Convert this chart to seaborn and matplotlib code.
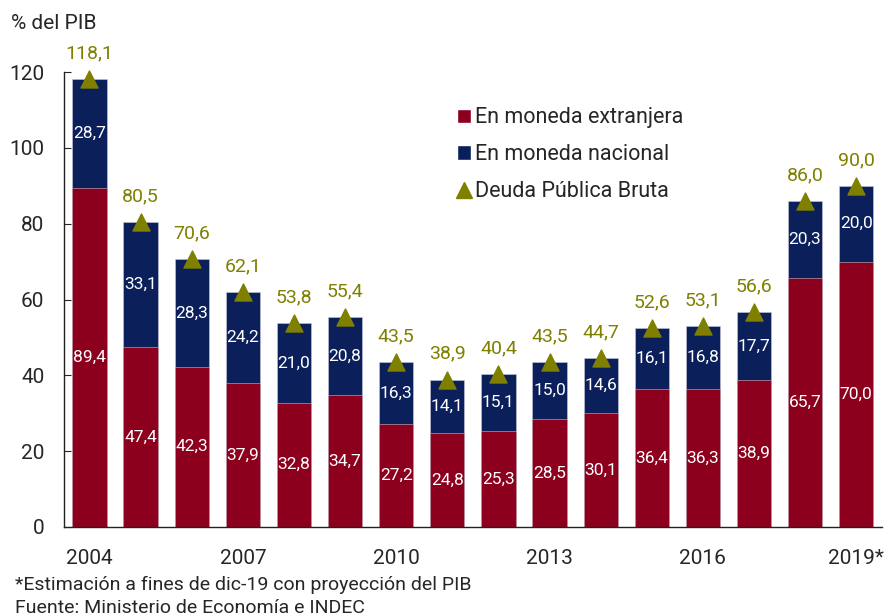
import numpy as np
import pandas as pd
import matplotlib
matplotlib.use("Agg")
import matplotlib.pyplot as plt
import seaborn as sns
from matplotlib.patches import Patch
from matplotlib.lines import Line2D

# data (% of GDP)
years = ["2004", "2005", "2006", "2007", "2008", "2009", "2010", "2011",
         "2012", "2013", "2014", "2015", "2016", "2017", "2018", "2019*"]
foreign = [89.4, 47.4, 42.3, 37.9, 32.8, 34.7, 27.2, 24.8,
           25.3, 28.5, 30.1, 36.4, 36.3, 38.9, 65.7, 70.0]
national = [28.7, 33.1, 28.3, 24.2, 21.0, 20.8, 16.3, 14.1,
            15.1, 15.0, 14.6, 16.1, 16.8, 17.7, 20.3, 20.0]
gross_debt = [118.1, 80.5, 70.6, 62.1, 53.8, 55.4, 43.5, 38.9,
              40.4, 43.5, 44.7, 52.6, 53.1, 56.6, 86.0, 90.0]
shown_years = ["2004", "2007", "2010", "2013", "2016", "2019*"]

RED = "#8C001E"
NAVY = "#0B1F5B"
OLIVE = "#7F8000"

sns.set_style("white")
plt.rcParams["font.family"] = ["Roboto", "DejaVu Sans"]


def fmt(v):
    return f"{v:.1f}".replace(".", ",")


df = pd.DataFrame({"year": years, "foreign": foreign, "national": national,
                   "total": gross_debt})
df["stack"] = df["foreign"] + df["national"]

fig = plt.figure(figsize=(8.88, 6.16), dpi=100)
ax = fig.add_axes([0.072, 0.1445, 0.921, 0.7385])

bar_w = 0.67
sns.barplot(data=df, x="year", y="stack", color=NAVY, width=bar_w,
            saturation=1, edgecolor="#c8c8d8", linewidth=0.4, ax=ax)
sns.barplot(data=df, x="year", y="foreign", color=RED, width=bar_w,
            saturation=1, edgecolor="#d8b8c0", linewidth=0.4, ax=ax)

pos = np.arange(len(years))
ax.scatter(pos, df["total"], marker="^", s=150, color=OLIVE, zorder=5,
           clip_on=False)

for i, row in df.iterrows():
    ax.text(i, row["foreign"] / 2, fmt(row["foreign"]), color="white",
            ha="center", va="center", fontsize=12.5)
    ax.text(i, row["foreign"] + row["national"] / 2, fmt(row["national"]),
            color="white", ha="center", va="center", fontsize=12.5)
    ax.annotate(fmt(row["total"]), (i, row["total"]), xytext=(0, 12),
                textcoords="offset points", ha="center", va="bottom",
                color=OLIVE, fontsize=14)

ax.set_xlim(-0.5, len(years) - 0.5)
ax.set_ylim(0, 120)
ax.set_yticks(range(0, 121, 20))
ax.set_xticks([years.index(y) for y in shown_years])
ax.set_xticklabels(shown_years)
ax.set_xticks(np.arange(2.5, len(years) - 1, 3), minor=True)
ax.tick_params(axis="x", which="major", length=0, pad=16, labelsize=15)
ax.tick_params(axis="x", which="minor", direction="in", length=5,
               width=0.8, color="#333333")
ax.tick_params(axis="y", direction="in", length=5, width=0.8, pad=14,
               labelsize=15, left=True)
ax.set_xlabel("")
ax.set_ylabel("")

for side in ["top", "right"]:
    ax.spines[side].set_visible(False)
for side in ["left", "bottom"]:
    ax.spines[side].set_color("#222222")
    ax.spines[side].set_linewidth(1.0)

handles = [
    Patch(facecolor=RED, label="En moneda extranjera"),
    Patch(facecolor=NAVY, label="En moneda nacional"),
    Line2D([], [], marker="^", color=OLIVE, linestyle="none", markersize=11,
           label="Deuda Pública Bruta"),
]
fig.legend(handles=handles, loc="upper left", bbox_to_anchor=(0.502, 0.843),
           frameon=False, fontsize=15.5, handlelength=0.65, handleheight=0.65,
           handletextpad=0.2, labelspacing=0.73, borderpad=0)

fig.text(0.012, 0.962, "% del PIB", fontsize=15, va="center", ha="left")
fig.text(0.017, 0.050, "*Estimación a fines de dic-19 con proyección del PIB",
         fontsize=14, va="center", ha="left")
fig.text(0.017, 0.013, "Fuente: Ministerio de Economía e INDEC",
         fontsize=14, va="center", ha="left")

fig.savefig("out.png", dpi=100)
